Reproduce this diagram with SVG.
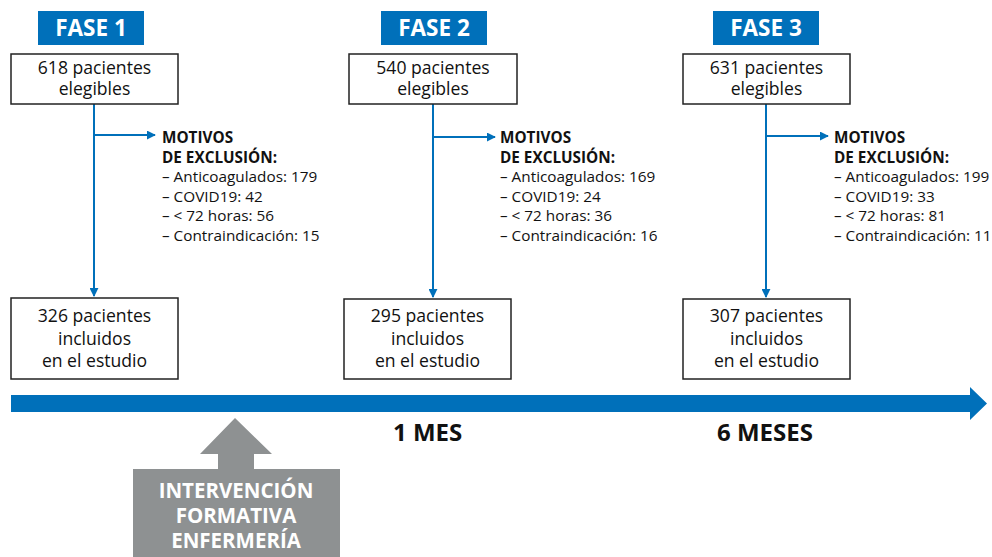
<svg xmlns="http://www.w3.org/2000/svg" width="992" height="557" viewBox="0 0 992 557">
<defs>
<style>
.fase{fill:#0070BA}
.fasetxt{font-family:"Open Sans","Liberation Sans",sans-serif;font-weight:bold;font-size:22.5px;fill:#fff;text-anchor:middle}
.box{fill:#fff;stroke:#222;stroke-width:1.5}
.btxt{font-family:"Open Sans","Liberation Sans",sans-serif;font-size:17.6px;fill:#111;text-anchor:middle}
.mot{font-family:"Open Sans","Liberation Sans",sans-serif;font-size:15.3px;fill:#111}
.motb{font-weight:bold}
.conn{stroke:#0070BA;stroke-width:2;fill:none}
.lbl{font-family:"Open Sans","Liberation Sans",sans-serif;font-weight:bold;font-size:24px;fill:#111}
.intxt{font-family:"Open Sans","Liberation Sans",sans-serif;font-weight:bold;font-size:20.5px;fill:#fff;text-anchor:middle}
</style>
<marker id="ah2" viewBox="0 0 10 10" refX="9" refY="5" markerWidth="9" markerHeight="9" orient="auto" markerUnits="userSpaceOnUse">
<path d="M0,0 L10,5 L0,10 z" fill="#0070BA"/>
</marker>
</defs>
<rect width="992" height="557" fill="#fff"/>

<g id="connectors">
<path class="conn" d="M94,104 V296" marker-end="url(#ah2)"/>
<path class="conn" d="M94,135 H155" marker-end="url(#ah2)"/>
<path class="conn" d="M433,104 V297" marker-end="url(#ah2)"/>
<path class="conn" d="M433,137 H495" marker-end="url(#ah2)"/>
<path class="conn" d="M766,104 V297" marker-end="url(#ah2)"/>
<path class="conn" d="M766,136 H828" marker-end="url(#ah2)"/>
</g>

<g id="fase1"><rect class="fase" x="38" y="11" width="106" height="34"/><text class="fasetxt" x="91" y="36">FASE 1</text></g>
<g id="fase2"><rect class="fase" x="381" y="11" width="106" height="34"/><text class="fasetxt" x="434" y="36">FASE 2</text></g>
<g id="fase3"><rect class="fase" x="713" y="11" width="106" height="34"/><text class="fasetxt" x="766" y="36">FASE 3</text></g>

<g id="elig1"><rect class="box" x="11" y="54" width="167" height="50"/><text class="btxt" x="94.5" y="74">618 pacientes</text><text class="btxt" x="94.5" y="95">elegibles</text></g>
<g id="elig2"><rect class="box" x="349" y="54" width="168" height="50"/><text class="btxt" x="433" y="74">540 pacientes</text><text class="btxt" x="433" y="95">elegibles</text></g>
<g id="elig3"><rect class="box" x="683" y="54" width="167" height="50"/><text class="btxt" x="766.5" y="74">631 pacientes</text><text class="btxt" x="766.5" y="95">elegibles</text></g>

<g id="excl1"><text class="mot" x="162" y="143"><tspan class="motb">MOTIVOS</tspan><tspan class="motb" x="162" dy="19.5">DE EXCLUSIÓN:</tspan><tspan x="162" dy="19.5">– Anticoagulados: 179</tspan><tspan x="162" dy="19.5">– COVID19: 42</tspan><tspan x="162" dy="19.5">– &lt; 72 horas: 56</tspan><tspan x="162" dy="19.5">– Contraindicación: 15</tspan></text></g>
<g id="excl2"><text class="mot" x="500" y="143"><tspan class="motb">MOTIVOS</tspan><tspan class="motb" x="500" dy="19.5">DE EXCLUSIÓN:</tspan><tspan x="500" dy="19.5">– Anticoagulados: 169</tspan><tspan x="500" dy="19.5">– COVID19: 24</tspan><tspan x="500" dy="19.5">– &lt; 72 horas: 36</tspan><tspan x="500" dy="19.5">– Contraindicación: 16</tspan></text></g>
<g id="excl3"><text class="mot" x="834" y="143"><tspan class="motb">MOTIVOS</tspan><tspan class="motb" x="834" dy="19.5">DE EXCLUSIÓN:</tspan><tspan x="834" dy="19.5">– Anticoagulados: 199</tspan><tspan x="834" dy="19.5">– COVID19: 33</tspan><tspan x="834" dy="19.5">– &lt; 72 horas: 81</tspan><tspan x="834" dy="19.5">– Contraindicación: 11</tspan></text></g>

<g id="incl1"><rect class="box" x="11" y="298" width="167" height="81"/><text class="btxt" x="94.5" y="322">326 pacientes</text><text class="btxt" x="94.5" y="345">incluidos</text><text class="btxt" x="94.5" y="367">en el estudio</text></g>
<g id="incl2"><rect class="box" x="344" y="299" width="167" height="80"/><text class="btxt" x="427.5" y="322">295 pacientes</text><text class="btxt" x="427.5" y="345">incluidos</text><text class="btxt" x="427.5" y="367">en el estudio</text></g>
<g id="incl3"><rect class="box" x="683" y="299" width="167" height="80"/><text class="btxt" x="766.5" y="322">307 pacientes</text><text class="btxt" x="766.5" y="345">incluidos</text><text class="btxt" x="766.5" y="367">en el estudio</text></g>

<g id="timeline"><path d="M11,395 H970 V387 L987,403.5 L970,420 V412 H11 z" fill="#0070BA"/></g>
<g id="mes1"><text class="lbl" x="393" y="441">1 MES</text></g>
<g id="mes6"><text class="lbl" x="717" y="441">6 MESES</text></g>

<g id="intervencion">
<path d="M235,418 L272,454 H254 V469 H340 V557 H133 V469 H218 V454 H200 z" fill="#8E9192"/>
<text class="intxt" x="236" y="498">INTERVENCIÓN</text>
<text class="intxt" x="236" y="523">FORMATIVA</text>
<text class="intxt" x="236" y="548">ENFERMERÍA</text>
</g>
</svg>
